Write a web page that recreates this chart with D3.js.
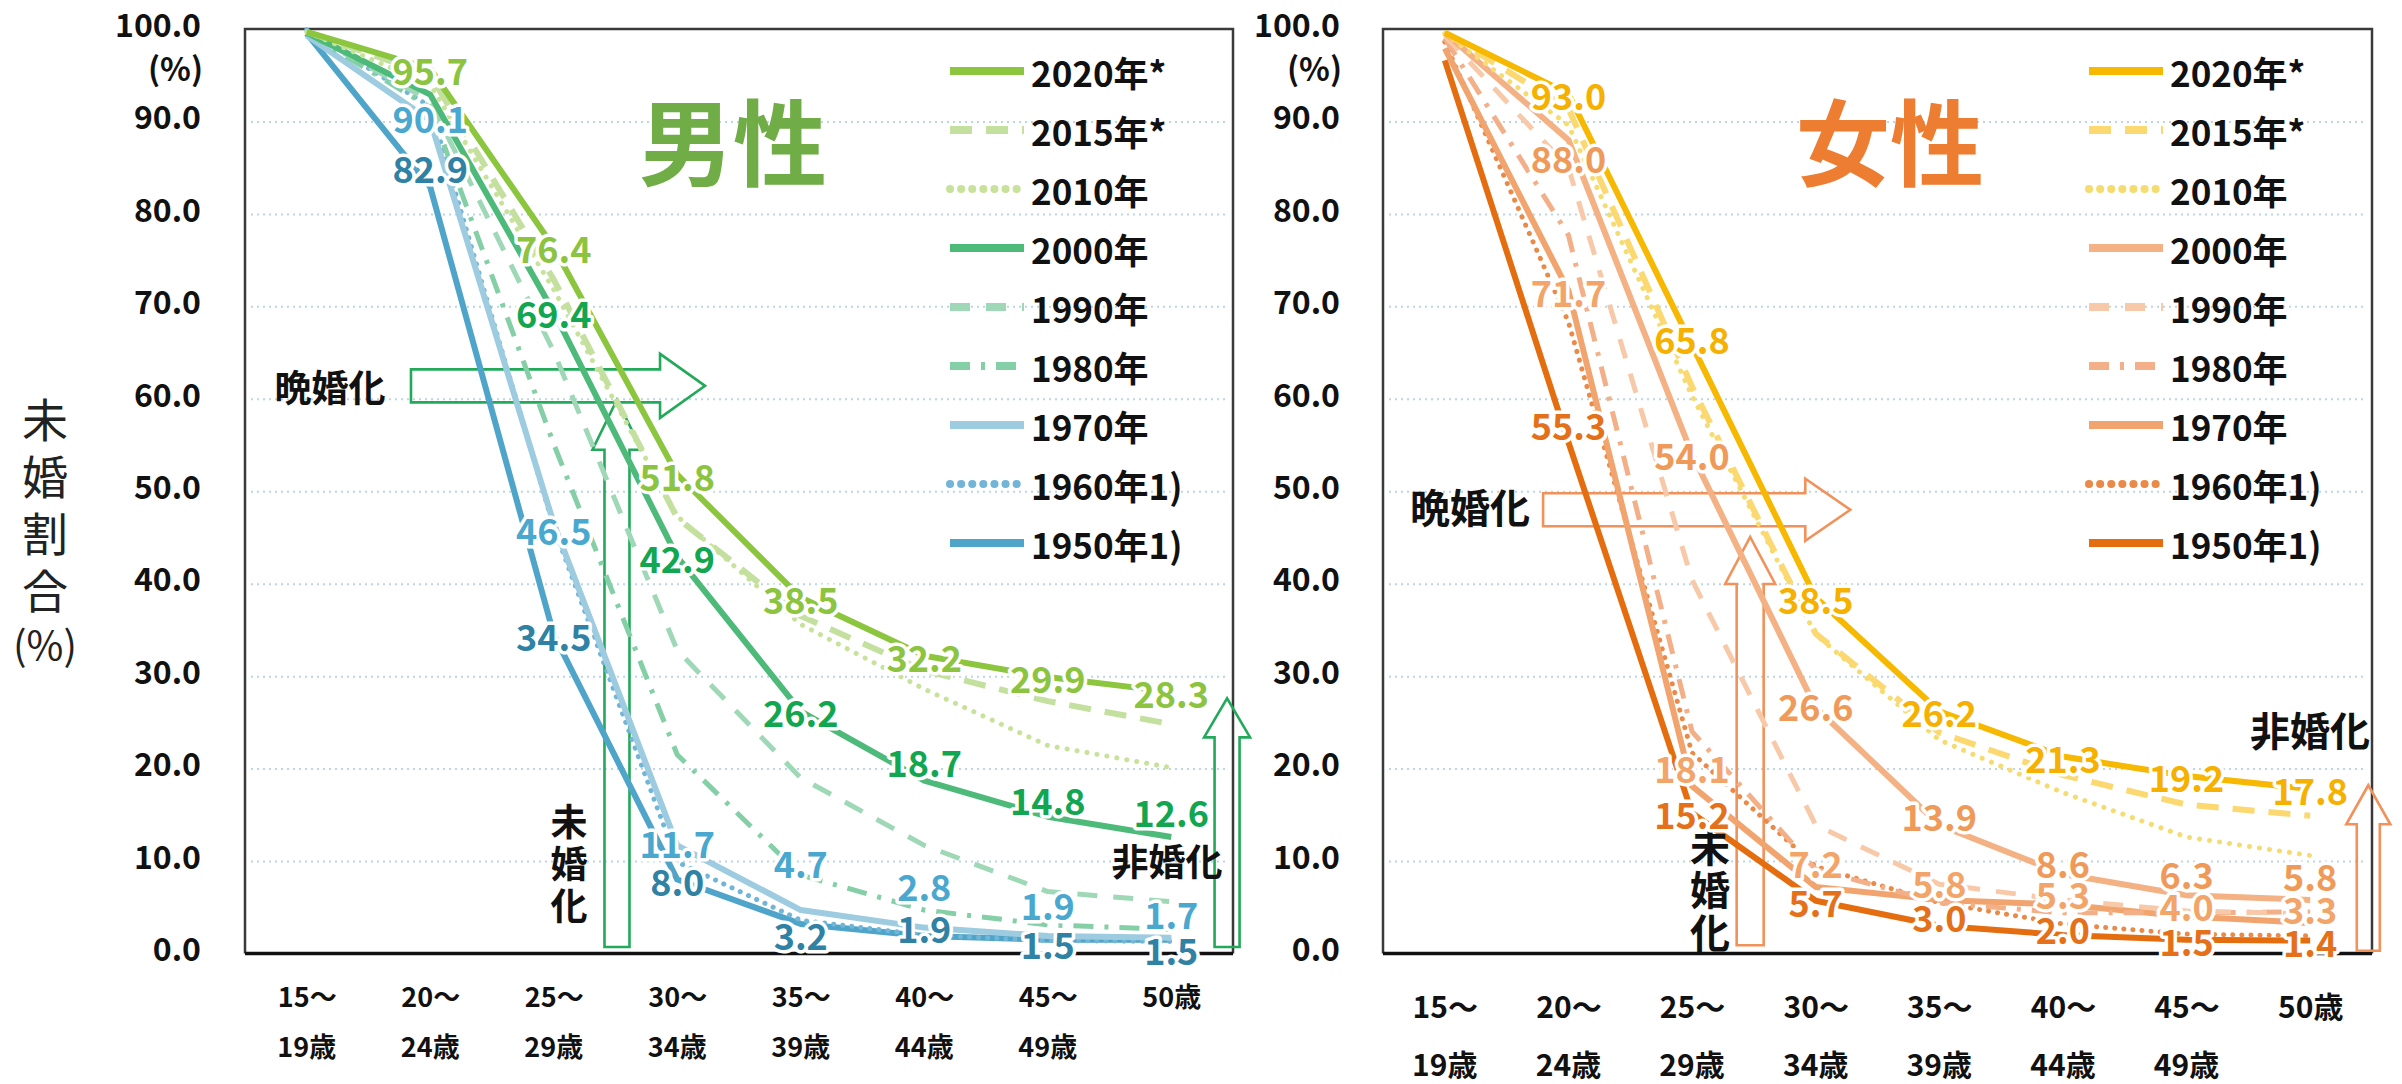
<!DOCTYPE html>
<html>
<head>
<meta charset="utf-8">
<script src="https://cdn.jsdelivr.net/npm/d3@7"></script>
<style>
  body { margin: 0; background: #fff; }
  svg { display: block; }
  text { font-family: "Noto Sans CJK JP", "Noto Sans", sans-serif; }
</style>
</head>
<body>
<svg id="chart" width="2402" height="1084"></svg>
<script>
// ---- categories ----
const ageTop    = ["15～", "20～", "25～", "30～", "35～", "40～", "45～", "50歳"];
const ageBottom = ["19歳", "24歳", "29歳", "34歳", "39歳", "44歳", "49歳", ""];
const yearLabels = ["2020年*", "2015年*", "2010年", "2000年", "1990年", "1980年", "1970年", "1960年1)", "1950年1)"];
const yTicks = [0, 10, 20, 30, 40, 50, 60, 70, 80, 90, 100];

// ---- never-married share (%) by age group, men ----
const male2020 = [99.7, 95.7, 76.4, 51.8, 38.5, 32.2, 29.9, 28.3];
const male2015 = [99.7, 95.0, 72.9, 47.1, 36.5, 30.6, 27.3, 24.8];
const male2010 = [99.7, 94.0, 71.8, 47.3, 35.6, 28.6, 22.5, 20.1];
const male2000 = [99.6, 92.9, 69.4, 42.9, 26.2, 18.7, 14.8, 12.6];
const male1990 = [99.7, 92.2, 65.1, 32.8, 19.0, 11.7, 6.7, 5.6];
const male1980 = [99.6, 91.5, 55.1, 21.5, 8.5, 4.7, 3.1, 2.6];
const male1970 = [99.3, 90.1, 46.5, 11.7, 4.7, 2.8, 1.9, 1.7];
const male1960 = [99.9, 91.6, 46.1, 9.9, 3.6, 2.0, 1.4, 1.3];
const male1950 = [99.5, 82.9, 34.5, 8.0, 3.2, 1.9, 1.5, 1.5];

// ---- never-married share (%) by age group, women ----
const female2020 = [99.6, 93.0, 65.8, 38.5, 26.2, 21.3, 19.2, 17.8];
const female2015 = [99.6, 91.4, 61.3, 34.6, 23.9, 19.3, 16.1, 14.9];
const female2010 = [99.5, 89.6, 60.3, 34.5, 23.1, 17.4, 12.6, 10.6];
const female2000 = [99.6, 88.0, 54.0, 26.6, 13.9, 8.6, 6.3, 5.8];
const female1990 = [99.3, 85.0, 40.4, 13.9, 7.5, 5.8, 4.6, 4.3];
const female1980 = [99.0, 77.7, 24.0, 9.1, 5.5, 4.4, 4.4, 4.5];
const female1970 = [97.9, 71.7, 18.1, 7.2, 5.8, 5.3, 4.0, 3.3];
const female1960 = [98.6, 68.3, 21.7, 9.4, 5.5, 3.2, 2.1, 1.9];
const female1950 = [96.6, 55.3, 15.2, 5.7, 3.0, 2.0, 1.5, 1.4];

const maleSeries   = [male2020, male2015, male2010, male2000, male1990, male1980, male1970, male1960, male1950];
const femaleSeries = [female2020, female2015, female2010, female2000, female1990, female1980, female1970, female1960, female1950];

// ---- styling: solid / dashed / dotted / dash-dot per year ----
const dashStyles = [null, "22,14", "0.1,10", null, "20,16", "20,11,4,11", null, "0.1,9", null];
const roundCaps  = [false, false, true, false, false, false, false, true, false];
const lineWidths = [6, 6, 5, 6, 5, 5, 6, 5, 6];
const maleColors = ["#8CC63F", "#C3E09F", "#C9E29B", "#4DBA7A", "#9ED8B6", "#84CFA6", "#9DCBE0", "#72B5D6", "#4FA4C9"];
const femaleColors = ["#F6B800", "#FBD870", "#F5DC70", "#F4B183", "#F8C9A8", "#F3B088", "#F1A46E", "#E98A48", "#E46D10"];

// which series carry value labels, their colours and vertical nudges (px)
const maleLabelled = [
  { s: 0, color: "#8CC43F", dy: [null, 0, 0, 0, 0, 0, 0, 0] },
  { s: 3, color: "#12A650", dy: [null, null, 0, 0, 0, -20, -18, -26] },
  { s: 6, color: "#4AA8CF", dy: [null, -4, 5, -3, -48, -43, -32, -25] },
  { s: 8, color: "#2F82A3", dy: [null, -20, 0, 0, 10, -9, 3, 9] }
];
const femaleLabelled = [
  { s: 0, color: "#F5B000", dy: [null, 0, -7, 0, 0, 0, 0, 0] },
  { s: 3, color: "#F09A5A", dy: [null, 17, 0, -3, -10, -12, -22, -25] },
  { s: 6, color: "#F2A469", dy: [null, 0, -19, -25, -18, -12, -12, -15] },
  { s: 8, color: "#E5701A", dy: [null, -18, 0, 0, -10, -7, 0, 0] }
];

const svg = d3.select("#chart");
const fmt = d3.format(".1f");

function drawPanel(cfg) {
  const g = svg.append("g");
  const x = d3.scalePoint().domain(d3.range(ageTop.length)).range([cfg.left, cfg.right]).padding(0.5);
  const y = d3.scaleLinear().domain([0, 100]).range([953.5, 29]);
  const xt = t => x(0) + t * x.step();

  // dotted horizontal gridlines
  g.append("g")
    .attr("transform", `translate(${cfg.left + 6},0)`)
    .call(d3.axisLeft(y).tickValues(yTicks.slice(1, -1)).tickSize(-(cfg.right - cfg.left - 12)).tickFormat(""))
    .call(a => a.select(".domain").remove())
    .call(a => a.selectAll("line").attr("stroke", "#BCD6E6").attr("stroke-width", 2).attr("stroke-dasharray", "2,4"));

  // frame
  g.append("path")
    .attr("d", `M${cfg.left},${y(0)}V${y(100)}H${cfg.right}V${y(0)}`)
    .attr("fill", "none").attr("stroke", "#3a3a3a").attr("stroke-width", 2.5);
  g.append("line")
    .attr("x1", cfg.left).attr("x2", cfg.right).attr("y1", y(0)).attr("y2", y(0))
    .attr("stroke", "#111").attr("stroke-width", 3.5);

  // y tick labels
  g.append("g")
    .attr("transform", `translate(${cfg.labelRight},-3)`)
    .call(d3.axisLeft(y).tickValues(yTicks).tickFormat(fmt).tickSize(0).tickPadding(0))
    .call(a => a.select(".domain").remove())
    .call(a => a.selectAll("text")
      .attr("font-size", 32).attr("font-weight", 700).attr("fill", "#111")
      .style("font-family", '"Noto Sans CJK JP", sans-serif'));
  g.append("text").attr("x", cfg.labelRight + 2).attr("y", 67)
    .attr("text-anchor", "end").attr("dominant-baseline", "central")
    .attr("font-size", 32).attr("font-weight", 700).attr("fill", "#111").text("(%)");

  // x tick labels (two rows)
  g.append("g")
    .attr("transform", `translate(0,${cfg.row1})`)
    .call(d3.axisBottom(x).tickSize(0).tickPadding(0).tickFormat(i => ageTop[i]))
    .call(a => a.select(".domain").remove())
    .call(a => a.selectAll("text")
      .attr("dy", "0.35em").attr("y", 0)
      .attr("font-size", cfg.xFont).attr("font-weight", 700).attr("fill", "#111")
      .style("font-family", '"Noto Sans CJK JP", sans-serif'));
  g.append("g").selectAll("text").data(d3.range(ageBottom.length)).join("text")
    .attr("x", i => x(i)).attr("y", cfg.row2)
    .attr("text-anchor", "middle").attr("dominant-baseline", "central")
    .attr("font-size", cfg.xFont).attr("font-weight", 700).attr("fill", "#111")
    .text(i => ageBottom[i]);

  // gender heading
  g.append("text").attr("x", cfg.titleX).attr("y", 138)
    .attr("text-anchor", "middle").attr("dominant-baseline", "central")
    .attr("font-size", 94).attr("font-weight", 700).attr("fill", cfg.titleColor).text(cfg.title);

  // legend
  const lg = g.append("g");
  yearLabels.forEach((lab, i) => {
    const ly = 71 + i * 59;
    lg.append("line")
      .attr("x1", cfg.legendX).attr("x2", cfg.legendX + 74).attr("y1", ly).attr("y2", ly)
      .attr("stroke", cfg.colors[i]).attr("stroke-width", 8)
      .attr("stroke-linecap", roundCaps[i] ? "round" : "butt")
      .attr("stroke-dasharray", roundCaps[i] ? "0.1,11" : dashStyles[i]);
    lg.append("text").attr("x", cfg.legendX + 81).attr("y", ly)
      .attr("dominant-baseline", "central")
      .attr("font-size", 35).attr("font-weight", 700).attr("fill", "#111").text(lab);
  });

  // annotation arrows (outline only)
  const hArrow = (x0, x1, yc, sh, hh, hl) => {
    const xb = x1 - hl;
    return `M${x0},${yc - sh / 2}H${xb}V${yc - hh / 2}L${x1},${yc}L${xb},${yc + hh / 2}V${yc + sh / 2}H${x0}Z`;
  };
  const vArrow = (xc, yb, yt, sw, hw, hl) => {
    const yh = yt + hl;
    return `M${xc - sw / 2},${yb}V${yh}H${xc - hw / 2}L${xc},${yt}L${xc + hw / 2},${yh}H${xc + sw / 2}V${yb}Z`;
  };
  const arrowG = g.append("g").attr("fill", "none").attr("stroke", cfg.arrowColor).attr("stroke-width", 2.6).attr("stroke-linejoin", "miter");
  const A = cfg.arrows;
  arrowG.append("path").attr("d", hArrow(xt(A.late[0]), xt(A.late[1]), y(A.late[2]), 33, A.late[3], 45));
  arrowG.append("path").attr("d", vArrow(xt(A.never[0]), y(A.never[1]), y(A.never[2]), A.never[3], A.never[4], A.never[5]));
  arrowG.append("path").attr("d", vArrow(xt(A.non[0]), y(A.non[1]), y(A.non[2]), A.non[3], A.non[4], A.non[5]));

  // series lines, oldest first so the newest sits on top
  const line = d3.line().x((d, i) => x(i)).y(d => y(d));
  const order = d3.range(cfg.series.length).reverse();
  g.append("g").selectAll("path").data(order).join("path")
    .attr("d", s => line(cfg.series[s]))
    .attr("fill", "none")
    .attr("stroke", s => cfg.colors[s])
    .attr("stroke-width", s => lineWidths[s])
    .attr("stroke-dasharray", s => dashStyles[s])
    .attr("stroke-linecap", s => roundCaps[s] ? "round" : "butt")
    .attr("stroke-linejoin", "round");

  // annotation words
  const word = (txt, cx, cy, size) => g.append("text").attr("x", cx).attr("y", cy)
    .attr("text-anchor", "middle").attr("dominant-baseline", "central")
    .attr("font-size", size).attr("font-weight", 700).attr("fill", "#111").text(txt);
  word("晩婚化", cfg.words.late[0], cfg.words.late[1], cfg.words.size);
  word("非婚化", cfg.words.non[0], cfg.words.non[1], cfg.words.size);
  Array.from("未婚化").forEach((ch, k) =>
    word(ch, cfg.words.never[0], cfg.words.never[1] + k * cfg.words.never[2], cfg.words.size));

  // value labels
  const lab = g.append("g");
  cfg.labelled.forEach(L => {
    cfg.series[L.s].forEach((v, i) => {
      if (L.dy[i] === null) return;
      lab.append("text")
        .attr("x", x(i)).attr("y", y(v) + L.dy[i])
        .attr("text-anchor", "middle").attr("dominant-baseline", "central")
        .attr("font-size", 36).attr("font-weight", 700)
        .attr("fill", L.color)
        .attr("stroke", "#fff").attr("stroke-width", 7).attr("stroke-linejoin", "round")
        .attr("paint-order", "stroke")
        .text(fmt(v));
    });
  });
}

drawPanel({
  left: 245, right: 1233, labelRight: 201, row1: 998, row2: 1045, xFont: 27,
  title: "男性", titleX: 733, titleColor: "#70AD47",
  legendX: 950, colors: maleColors, series: maleSeries, labelled: maleLabelled,
  arrowColor: "#22A95A",
  arrows: { late: [0.844, 3.225, 61.4, 64], never: [2.512, 0.7, 59.9, 25, 49, 50], non: [7.452, 0.7, 27.6, 25, 46, 39] },
  words: { late: [330, 386], non: [1167, 860], never: [569, 820, 42], size: 37 }
});

drawPanel({
  left: 1383, right: 2372, labelRight: 1340, row1: 1007, row2: 1063, xFont: 30,
  title: "女性", titleX: 1890, titleColor: "#ED7D31",
  legendX: 2089, colors: femaleColors, series: femaleSeries, labelled: femaleLabelled,
  arrowColor: "#F0925A",
  arrows: { late: [0.795, 3.28, 48.0, 62], never: [2.47, 0.9, 45.05, 27, 50, 47], non: [7.47, 0.3, 18.2, 23, 44, 39] },
  words: { late: [1470, 506], non: [2310, 729], never: [1710, 845, 43], size: 40 }
});

// shared y-axis title
const yTitle = svg.append("g");
Array.from("未婚割合").forEach((ch, k) =>
  yTitle.append("text").attr("x", 45).attr("y", 417 + k * 57)
    .attr("text-anchor", "middle").attr("dominant-baseline", "central")
    .attr("font-size", 46).attr("font-weight", 400).attr("fill", "#222").text(ch));
yTitle.append("text").attr("x", 45).attr("y", 643)
  .attr("text-anchor", "middle").attr("dominant-baseline", "central")
  .attr("font-size", 40).attr("font-weight", 400).attr("fill", "#222").text("(%)");
</script>
</body>
</html>
